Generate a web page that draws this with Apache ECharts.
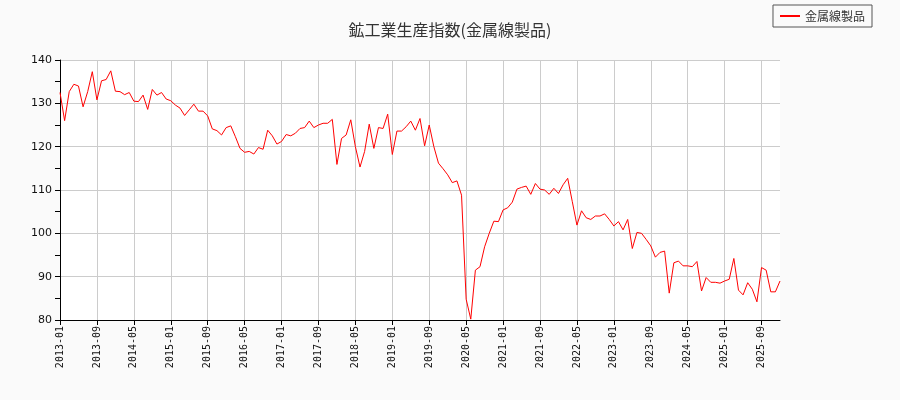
<!DOCTYPE html>
<html><head><meta charset="utf-8">
<script src="https://cdn.jsdelivr.net/npm/echarts@6/dist/echarts.min.js"></script>
<style>html,body{margin:0;padding:0;background:#fafafa}#c{width:900px;height:400px}</style>
</head><body><div id="c"></div>
<script>
var startYear = 2013, startMonth = 1, monthCount = 157;
var categories = [];
for (var k = 0; k < monthCount; k++) {
  var m = startMonth - 1 + k;
  var y = startYear + Math.floor(m / 12);
  var mm = (m % 12) + 1;
  categories.push(y + '-' + (mm < 10 ? '0' + mm : mm));
}
var values = [
  132.5,126,132.7,134.4,134,129.2,132.7,137.3,130.8,135.2,135.5,137.5,
  132.8,132.7,132,132.5,130.5,130.4,131.9,128.6,133.2,131.9,132.5,131,
  130.6,129.6,128.9,127.2,128.5,129.8,128.2,128.2,127.1,124.1,123.7,122.7,
  124.4,124.8,122.3,119.6,118.7,118.9,118.3,119.8,119.4,123.8,122.5,120.6,
  121.2,122.8,122.5,123.1,124.2,124.4,125.9,124.4,125,125.4,125.4,126.3,
  115.9,121.9,122.7,126.2,120,115.3,118.9,125.2,119.6,124.4,124.2,127.5,
  118.2,123.6,123.6,124.6,125.9,123.8,126.5,120.2,125,120,116.2,114.9,
  113.5,111.7,112.1,108.8,84.8,80.2,91.5,92.3,96.9,100,102.8,102.7,
  105.4,105.9,107.2,110.2,110.6,110.9,109,111.5,110.2,110,109,110.4,
  109.2,111.2,112.7,107.3,101.9,105.2,103.6,103.2,104,104,104.5,103.2,
  101.7,102.7,100.8,103.2,96.5,100.2,100,98.6,97.1,94.5,95.6,95.9,
  86.2,93.2,93.6,92.5,92.5,92.3,93.5,86.7,89.8,88.7,88.7,88.5,
  89,89.4,94.2,86.9,85.8,88.6,87.1,84.2,92.1,91.5,86.5,86.5,
  89
];
var yTicks = [80, 90, 100, 110, 120, 130, 140];

var chart = echarts.init(document.getElementById('c'));
chart.setOption({
  backgroundColor: '#fafafa',
  animation: false,
  title: {
    text: '鉱工業生産指数(金属線製品)',
    left: 'center', top: 17,
    textStyle: { fontSize: 16, fontWeight: 'normal', color: '#333', fontFamily: 'Noto Sans CJK JP' }
  },
  legend: {
    right: 28, top: 5,
    itemWidth: 20, itemHeight: 2,
    borderColor: '#555', borderWidth: 1, borderRadius: 0,
    padding: [5, 7],
    textStyle: { fontSize: 12, color: '#333', fontFamily: 'Noto Sans CJK JP' },
    data: [{ name: '金属線製品', icon: 'rect' }]
  },
  grid: {
    left: 60, right: 120, top: 60, bottom: 80,
    show: true, backgroundColor: '#ffffff', borderWidth: 0
  },
  xAxis: {
    type: 'category',
    data: categories,
    boundaryGap: false,
    axisLine: { lineStyle: { color: '#000' } },
    axisTick: { interval: 7, length: 5, lineStyle: { color: '#000' } },
    axisLabel: { interval: 7, rotate: 90, fontSize: 10, color: '#111', fontFamily: 'DejaVu Sans Mono', margin: 6 },
    splitLine: { show: true, interval: 7, lineStyle: { color: '#cccccc' } }
  },
  yAxis: {
    type: 'value',
    min: yTicks[0], max: yTicks[yTicks.length - 1], interval: 10,
    axisLine: { show: true, lineStyle: { color: '#000' } },
    axisTick: { show: true, length: 5, lineStyle: { color: '#000' } },
    minorTick: { show: true, splitNumber: 2, length: 5, lineStyle: { color: '#000' } },
    axisLabel: { fontSize: 11, color: '#111', fontFamily: 'DejaVu Sans', margin: 8 },
    splitLine: { show: true, lineStyle: { color: '#cccccc' } }
  },
  series: [{
    name: '金属線製品',
    type: 'line',
    data: values,
    showSymbol: false,
    symbol: 'none',
    lineStyle: { color: '#ff0000', width: 1 },
    itemStyle: { color: '#ff0000' }
  }]
});
</script></body></html>
